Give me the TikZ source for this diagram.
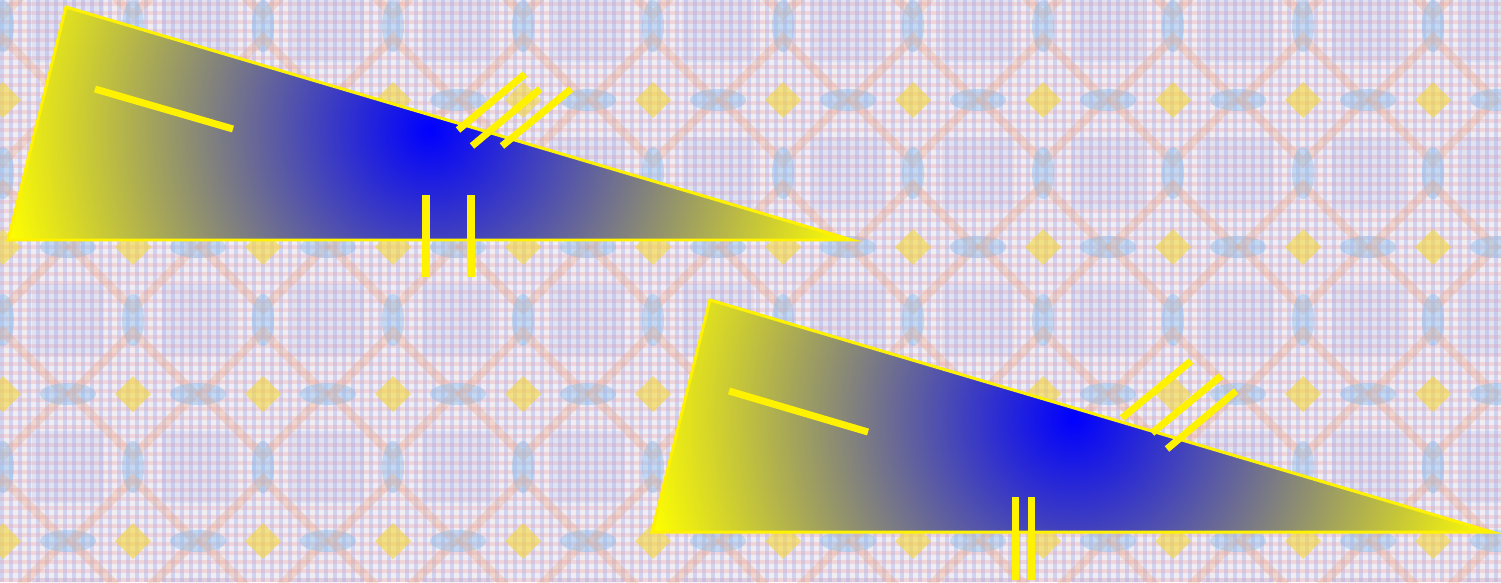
\documentclass[tikz,border=0pt]{standalone}
\usepackage{tikz}
\usetikzlibrary{calc}
\usepackage{xcolor}
\definecolor{paper}{RGB}{240,236,242}
\definecolor{lilac}{RGB}{150,165,235}
\definecolor{rose}{RGB}{235,155,165}
\definecolor{honey}{RGB}{245,215,60}
\definecolor{peach}{RGB}{240,165,125}
\definecolor{sky}{RGB}{130,190,240}

\begin{document}
\begin{tikzpicture}[x=0.01cm, y=-0.01cm,
    gridv/.style={draw=lilac, line width=0.9pt, opacity=.35},
    gridh/.style={draw=rose, line width=0.9pt, opacity=.28},
    ring/.style={draw=peach, line width=2.5pt, opacity=.3},
    spot/.style={fill=honey, opacity=.6},
    oval/.style={fill=sky, opacity=.4},
    plaid/.style={fill=lilac, opacity=.15},
    rim/.style={draw=yellow, line width=0.85pt},
    tickmark/.style={draw=yellow, line width=2pt},
    glow/.style={inner color=blue, outer color=yellow}]
    \useasboundingbox (0,0) rectangle (1501,582);
    \fill[paper] (0,0) rectangle (1501,582);

    \begin{scope}
        \clip (0,0) rectangle (1501,582);
        \foreach \k in {2,11,...,1501} \draw[gridv] (\k,0) -- (\k,582);
        \foreach \k in {4,13,...,582} \draw[gridh] (0,\k) -- (1501,\k);
        \foreach \i in {0,...,11} \foreach \j in {-1,...,3} {
            \draw[ring] (130*\i+3,147*\j+100) +(-62,0) -- +(0,-62) -- +(62,0) -- +(0,62) -- cycle;
            \fill[spot] (130*\i+3,147*\j+100) +(-18,0) -- +(0,-18) -- +(18,0) -- +(0,18) -- cycle;
            \fill[oval] (130*\i+68,147*\j+100) ellipse (0.28cm and 0.11cm);
            \fill[oval] (130*\i+3,147*\j+173) ellipse (0.11cm and 0.26cm);
            \fill[plaid] (130*\i+68,147*\j+173) +(-36,-36) rectangle +(36,36);
        }
    \end{scope}

    \coordinate (a1) at (66,7);
    \coordinate (b1) at (8,240);
    \coordinate (c1) at (852,240);
    \coordinate (g1) at (430,130);
    \begin{scope}
        \clip (a1) -- (b1) -- (c1) -- cycle;
        \shade[glow] (g1) circle (4.35cm);
    \end{scope}
    \draw[rim] (a1) -- (b1) -- (c1) -- cycle;
    \draw[tickmark] (95,89) -- (233,129);
    \draw[tickmark] (458,130) -- (525,74);
    \draw[tickmark] (472,146) -- (540,89);
    \draw[tickmark] (502,146) -- (571,89);
    \draw[tickmark] (426,195) -- (426,277);
    \draw[tickmark] (471,195) -- (471,277);

    \coordinate (a2) at (710,300);
    \coordinate (b2) at (652,532);
    \coordinate (c2) at (1492,532);
    \coordinate (g2) at (1073,418);
    \begin{scope}
        \clip (a2) -- (b2) -- (c2) -- cycle;
        \shade[glow] (g2) circle (4.35cm);
    \end{scope}
    \draw[rim] (a2) -- (b2) -- (c2) -- cycle;
    \draw[tickmark] (729,391) -- (868,432);
    \draw[tickmark] (1122,418) -- (1191,361);
    \draw[tickmark] (1152,433) -- (1221,376);
    \draw[tickmark] (1167,449) -- (1236,391);
    \draw[tickmark] (1015,497) -- (1015,580);
    \draw[tickmark] (1031,497) -- (1031,580);
\end{tikzpicture}
\end{document}
